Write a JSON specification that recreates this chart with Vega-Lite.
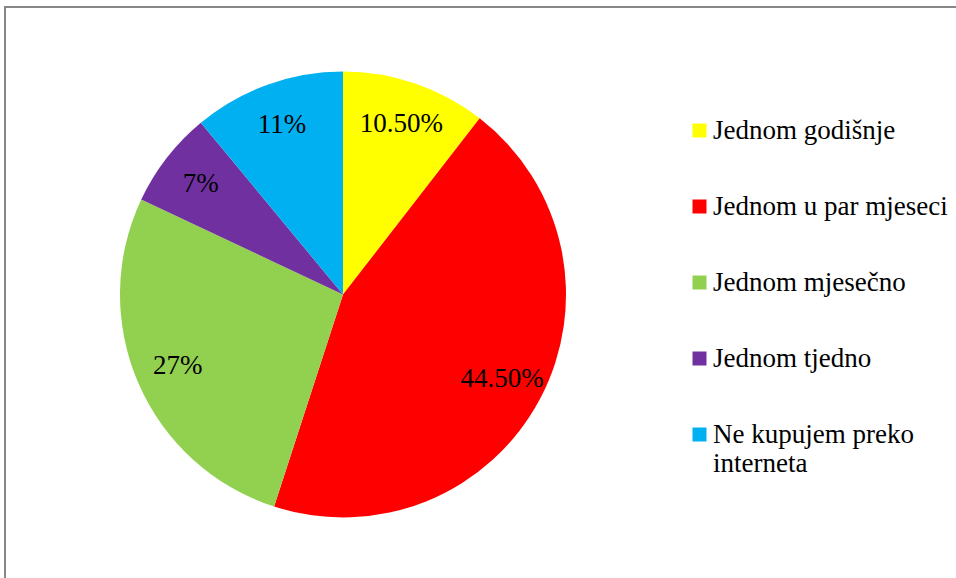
{
  "$schema": "https://vega.github.io/schema/vega-lite/v6.json",
  "autosize": "none",
  "width": 951,
  "height": 571,
  "padding": {"left": 5, "top": 7, "right": 0, "bottom": 0},
  "config": {
    "font": "Times New Roman",
    "view": {"stroke": null}
  },
  "data": {
    "values": [
      {"kategorija": "Jednom godišnje", "udio": 10.5, "oznaka": "10.50%", "redoslijed": 1},
      {"kategorija": "Jednom u par mjeseci", "udio": 44.5, "oznaka": "44.50%", "redoslijed": 2},
      {"kategorija": "Jednom mjesečno", "udio": 27, "oznaka": "27%", "redoslijed": 3},
      {"kategorija": "Jednom tjedno", "udio": 7, "oznaka": "7%", "redoslijed": 4},
      {"kategorija": "Ne kupujem preko interneta", "udio": 11, "oznaka": "11%", "redoslijed": 5}
    ]
  },
  "layer": [
    {
      "data": {"values": [{"okvir": 1}]},
      "mark": {"type": "rect", "fill": null, "stroke": "#878787", "strokeWidth": 2},
      "encoding": {
        "x": {"value": 0},
        "x2": {"value": 1000},
        "y": {"value": 0},
        "y2": {"value": 700}
      }
    },
    {
      "mark": {"type": "arc", "outerRadius": 223, "x": 338, "y": 287.5},
      "encoding": {
        "theta": {"field": "udio", "type": "quantitative", "stack": true},
        "order": {"field": "redoslijed", "type": "quantitative"},
        "color": {
          "field": "kategorija",
          "type": "nominal",
          "scale": {
            "domain": ["Jednom godišnje", "Jednom u par mjeseci", "Jednom mjesečno", "Jednom tjedno", "Ne kupujem preko interneta"],
            "range": ["#FFFF00", "#FF0000", "#92D050", "#7030A0", "#00B0F0"]
          },
          "legend": {
            "title": null,
            "orient": "none",
            "legendX": 681,
            "legendY": 110,
            "symbolType": "square",
            "symbolSize": 196,
            "symbolStrokeWidth": 0,
            "labelFont": "Times New Roman",
            "labelFontSize": 27,
            "labelColor": "#000000",
            "labelOffset": 0,
            "labelLimit": 400,
            "rowPadding": 48,
            "labelExpr": "datum.label == 'Ne kupujem preko interneta' ? ['Ne kupujem preko', 'interneta'] : datum.label"
          }
        }
      }
    },
    {
      "mark": {"type": "text", "radius": 180, "x": 338, "y": 287.5, "fontSize": 27, "font": "Times New Roman", "color": "#000000"},
      "encoding": {
        "theta": {"field": "udio", "type": "quantitative", "stack": true},
        "order": {"field": "redoslijed", "type": "quantitative"},
        "text": {"field": "oznaka"}
      }
    }
  ]
}
